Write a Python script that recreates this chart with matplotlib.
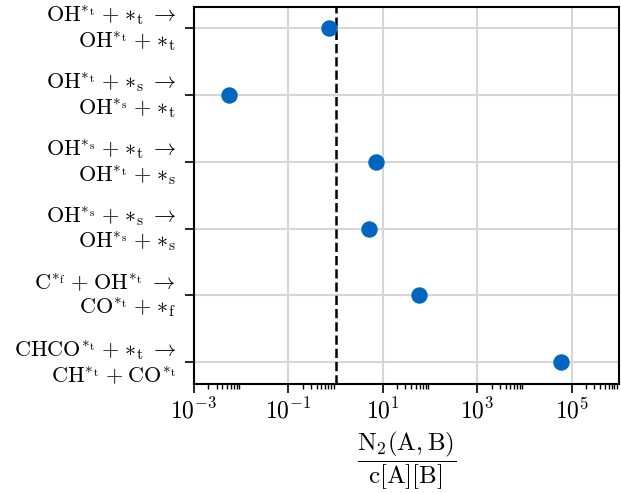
"""Fig: N2(A,B)/(c[A][B]) ratios for the six surface pair reactions."""
import numpy as np
import matplotlib
matplotlib.use("Agg")
import matplotlib.pyplot as plt

plt.rcParams["font.family"] = "serif"
plt.rcParams["font.serif"] = ["cmr10"]
plt.rcParams["mathtext.fontset"] = "cm"
plt.rcParams["axes.formatter.use_mathtext"] = True

PLUS = r"\;{+}\;"


def site(s):
    return r"{\ast}_\mathrm{" + s + "}"


def ads(sp, s):
    return r"\mathrm{" + sp + r"}^{" + site(s) + "}"


def label(lhs, rhs):
    return "$" + lhs + r"\;{\rightarrow}$" + "\n" + "$" + rhs + "$"


# reactions, top to bottom
REACTIONS = [
    label(ads("OH", "t") + PLUS + site("t"), ads("OH", "t") + PLUS + site("t")),
    label(ads("OH", "t") + PLUS + site("s"), ads("OH", "s") + PLUS + site("t")),
    label(ads("OH", "s") + PLUS + site("t"), ads("OH", "t") + PLUS + site("s")),
    label(ads("OH", "s") + PLUS + site("s"), ads("OH", "s") + PLUS + site("s")),
    label(ads("C", "f") + PLUS + ads("OH", "t"), ads("CO", "t") + PLUS + site("f")),
    label(ads("CHCO", "t") + PLUS + site("t"), ads("CH", "t") + PLUS + ads("CO", "t")),
]
RATIO = [0.71, 0.0054, 7.2, 5.1, 57.0, 6.0e4]

MAJOR = [1e-3, 1e-1, 1e1, 1e3, 1e5]


def main():
    fig = plt.figure(figsize=(6.21, 4.93), dpi=100)
    ax = fig.add_axes([194 / 621, 1 - 384 / 493, 425 / 621, 377 / 493])

    ypos = np.arange(len(REACTIONS))
    ax.scatter(RATIO, ypos, s=140, color="#0066bf", zorder=3, linewidths=0)
    ax.axvline(1.0, color="black", linestyle="--", linewidth=1.8, zorder=2)

    ax.set_xscale("log")
    ax.set_xlim(1e-3, 1e6)
    ax.set_xticks(MAJOR)
    ax.set_xticks([s * m for m in MAJOR for s in range(2, 10)], minor=True)
    ax.set_ylim(len(REACTIONS) - 1 + 0.33, -0.32)
    ax.set_yticks(ypos)
    ax.set_yticklabels(REACTIONS, fontsize=16, va="center", linespacing=1.1)
    ax.tick_params(axis="x", which="major", labelsize=17, length=6.5, width=1.2)
    ax.tick_params(axis="x", which="minor", length=3.5, width=1.0)
    ax.tick_params(axis="y", length=6.5, width=1.2, pad=6.5)

    ax.grid(True, which="major", color="#d6d6d6", linewidth=1.5, zorder=0)
    ax.set_axisbelow(True)
    for sp in ax.spines.values():
        sp.set_linewidth(1.5)

    ax.set_xlabel(r"$\dfrac{\mathrm{N_2(A,B)}}{\mathrm{c[A][B]}}$", fontsize=18)

    fig.savefig("out.png", dpi=100)
    plt.close(fig)


if __name__ == "__main__":
    main()
